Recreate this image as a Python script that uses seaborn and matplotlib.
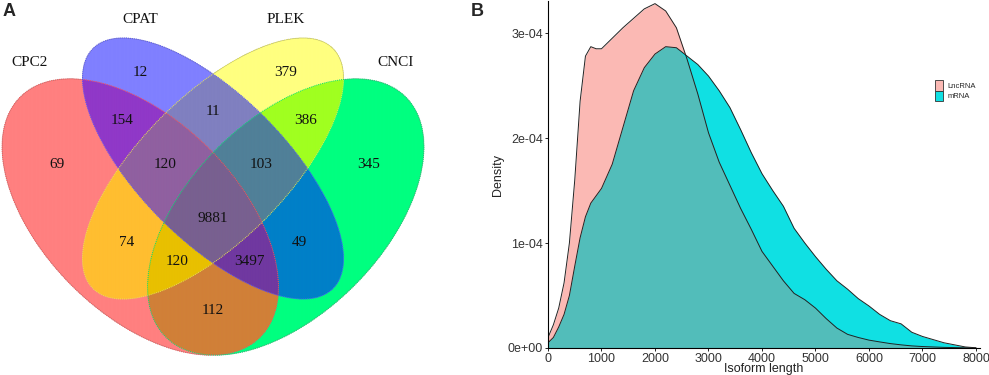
import numpy as np
import pandas as pd
import seaborn as sns
import matplotlib
matplotlib.use("Agg")
from matplotlib import pyplot as plt
from matplotlib.patches import Ellipse, Patch

# ---- panel A: four-set Venn counts ----
set_names = ["CPC2", "CPAT", "PLEK", "CNCI"]
region_sets = [("CPC2",), ("CPAT",), ("PLEK",), ("CNCI",),
               ("CPC2", "CPAT"), ("CPAT", "PLEK"), ("PLEK", "CNCI"),
               ("CPC2", "CPAT", "PLEK"), ("CPAT", "PLEK", "CNCI"),
               ("CPC2", "CPAT", "PLEK", "CNCI"),
               ("CPC2", "PLEK"), ("CPAT", "CNCI"),
               ("CPC2", "PLEK", "CNCI"), ("CPC2", "CPAT", "CNCI"),
               ("CPC2", "CNCI")]
region_counts = [69, 12, 379, 345, 154, 11, 386, 120, 103, 9881, 74, 49, 120, 3497, 112]
region_colors = ["#FF8080", "#8080FF", "#FFFF80", "#00FF80",
                 "#9038C8", "#8080C0", "#A0FF20",
                 "#9060A0", "#508098", "#786090",
                 "#FFBE30", "#0080C8", "#E8C000", "#7038A0", "#D08038"]

# ---- panel B: isoform length density (units 1e-4) ----
iso_length = [0, 100, 200, 300, 400, 500, 600, 700, 800, 900, 1000, 1200, 1400,
              1600, 1800, 2000, 2200, 2400, 2600, 2800, 3000, 3200, 3400, 3600,
              3800, 4000, 4200, 4400, 4600, 4800, 5000, 5200, 5400, 5600, 5800,
              6000, 6200, 6400, 6600, 6800, 7000, 7200, 7400, 7600, 7800, 8000]
lnc_density = [0.10, 0.22, 0.38, 0.62, 1.00, 1.60, 2.35, 2.78, 2.87, 2.85, 2.85,
               2.95, 3.05, 3.14, 3.23, 3.28, 3.21, 3.05, 2.75, 2.42, 2.05, 1.77,
               1.55, 1.33, 1.13, 0.92, 0.78, 0.64, 0.52, 0.46, 0.38, 0.28, 0.19,
               0.13, 0.10, 0.075, 0.058, 0.042, 0.03, 0.02, 0.014, 0.01, 0.006,
               0.004, 0.002, 0.0]
mrna_density = [0.05, 0.10, 0.20, 0.32, 0.50, 0.78, 1.05, 1.25, 1.38, 1.45, 1.52,
                1.75, 2.10, 2.45, 2.67, 2.80, 2.87, 2.86, 2.78, 2.70, 2.59, 2.45,
                2.29, 2.08, 1.86, 1.66, 1.50, 1.35, 1.14, 1.00, 0.87, 0.75, 0.64,
                0.56, 0.47, 0.40, 0.32, 0.26, 0.23, 0.15, 0.11, 0.08, 0.05, 0.03,
                0.01, 0.002]

sns.set_style("ticks")
plt.rcParams["font.family"] = ["Liberation Sans", "DejaVu Sans"]

fig = plt.figure(figsize=(9.89, 3.75), dpi=100)

# ---------------- Venn ----------------
axv = fig.add_axes([0, 0, 480 / 989, 1])
# VennDiagram-style ellipses: centre, semi-axes, rotation
ellipses = {
    "CPC2": ((0.35, 0.47), 0.35, 0.20, 135),
    "CPAT": ((0.50, 0.57), 0.35, 0.15, 135),
    "PLEK": ((0.50, 0.57), 0.35, 0.15, 45),
    "CNCI": ((0.65, 0.47), 0.35, 0.20, 45),
}
edge_colors = {"CPC2": "#FF5050", "CPAT": "#5050FF", "PLEK": "#E8E850", "CNCI": "#00E070"}

xlo, xhi, ylo, yhi = 0.0608, 1.0505, 0.1442, 0.9174
uu, vv = np.meshgrid(np.linspace(xlo, xhi, 1980), np.linspace(ylo, yhi, 1500))
inside = {}
for name, ((cx, cy), a, b, ang) in ellipses.items():
    t = np.deg2rad(ang)
    dx, dy = uu - cx, vv - cy
    xp = dx * np.cos(t) + dy * np.sin(t)
    yp = -dx * np.sin(t) + dy * np.cos(t)
    inside[name] = (xp / a) ** 2 + (yp / b) ** 2 <= 1

img = np.zeros(uu.shape + (4,))
for sets, col in zip(region_sets, region_colors):
    mask = np.ones(uu.shape, bool)
    for name in set_names:
        mask &= inside[name] if name in sets else ~inside[name]
    img[mask] = matplotlib.colors.to_rgba(col)
axv.imshow(img, extent=(xlo, xhi, ylo, yhi), origin="lower", aspect="auto",
           interpolation="antialiased")

for name, ((cx, cy), a, b, ang) in ellipses.items():
    axv.add_patch(Ellipse((cx, cy), 2 * a, 2 * b, angle=ang, fill=False,
                          ec=edge_colors[name], lw=0.7, ls=(0, (1, 1))))

# label positions (in the ellipse coordinate frame)
label_pos = [(0.179, 0.579), (0.3495, 0.768), (0.6505, 0.768), (0.820, 0.579),
             (0.312, 0.668), (0.500, 0.688), (0.690, 0.668),
             (0.401, 0.579), (0.600, 0.579), (0.500, 0.467),
             (0.321, 0.418), (0.679, 0.418), (0.425, 0.378), (0.575, 0.378),
             (0.500, 0.278)]
for (px, py), n in zip(label_pos, region_counts):
    axv.text(px, py, str(n), ha="center", va="center", fontsize=11,
             family=["Liberation Serif"], color="#111111")
name_pos = [(0.1227, 0.7895), (0.3495, 0.878), (0.6505, 0.878), (0.877, 0.7895)]
for (px, py), n in zip(name_pos, set_names):
    axv.text(px, py, n, ha="center", va="center", fontsize=11,
             family=["Liberation Serif"], color="#111111")
axv.set_xlim(xlo, xhi)
axv.set_ylim(ylo, yhi)
axv.axis("off")

# ---------------- density ----------------
df = pd.DataFrame({"length": iso_length,
                   "LncRNA": np.array(lnc_density) * 1e-4,
                   "mRNA": np.array(mrna_density) * 1e-4})
ax = fig.add_axes([548 / 989, 1 - 348 / 375, 432 / 989, 347 / 375])
pink, cyan, teal = "#FBB9B4", "#10E0E3", "#52BDBA"
ax.fill_between(df["length"], df["LncRNA"], color=pink, lw=0)
ax.fill_between(df["length"], df["mRNA"], color=cyan, lw=0)
ax.fill_between(df["length"], np.minimum(df["LncRNA"], df["mRNA"]), color=teal, lw=0)
sns.lineplot(data=df, x="length", y="LncRNA", ax=ax, color="#222222", lw=0.7)
sns.lineplot(data=df, x="length", y="mRNA", ax=ax, color="#222222", lw=0.7)

ax.set_xlim(0, 8075)
ax.set_ylim(0, 3.305e-4)
ax.set_xticks(range(0, 8001, 1000))
ax.set_yticks([0, 1e-4, 2e-4, 3e-4])
ax.set_yticklabels(["0e+00", "1e-04", "2e-04", "3e-04"])
ax.tick_params(labelsize=9, length=2.5, width=0.6, pad=1, colors="#333333")
ax.tick_params(color="black")
for s in ["left", "bottom"]:
    ax.spines[s].set_linewidth(0.8)
    ax.spines[s].set_color("black")
sns.despine(ax=ax)
ax.set_xlabel("Isoform length", fontsize=9, labelpad=-1, color="#222222")
ax.set_ylabel("Density", fontsize=9, labelpad=3, color="#222222")

handles = [Patch(fc=pink, ec="#333333", lw=0.6, label="LncRNA"),
           Patch(fc=cyan, ec="#333333", lw=0.6, label="mRNA")]
fig.legend(handles=handles, loc="upper left", bbox_to_anchor=(931 / 989, 1 - 76 / 375),
           frameon=False, fontsize=5.5, handlelength=1.1, handleheight=1.8,
           labelspacing=0, handletextpad=0.6, borderpad=0)

fig.text(3 / 989, 1 - 3 / 375, "A", fontsize=13, fontweight="bold", va="top", ha="left")
fig.text(471 / 989, 1 - 3 / 375, "B", fontsize=13, fontweight="bold", va="top", ha="left")

fig.savefig("out.png", dpi=100)
